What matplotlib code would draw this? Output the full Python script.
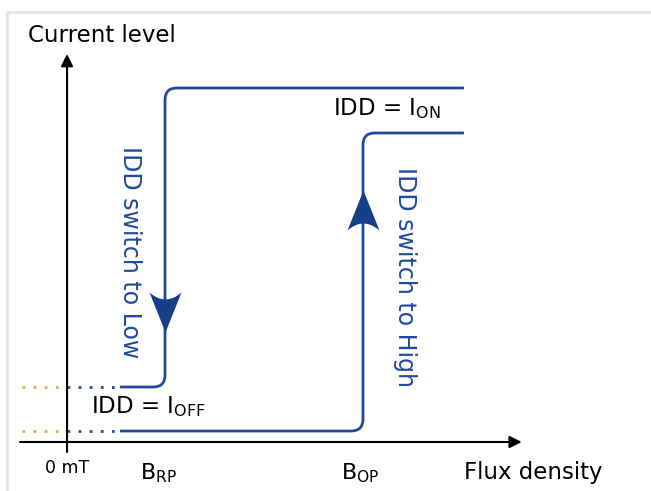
import numpy as np
import matplotlib.pyplot as plt
from matplotlib.path import Path
from matplotlib.patches import PathPatch

# schematic values (field in arbitrary units, current in arbitrary units)
b_ticks = [0.0, 1.0, 3.02]
b_labels = ['0 mT', r'B$_{\mathregular{RP}}$', r'B$_{\mathregular{OP}}$']
b_start = 0.54       # where the solid curves start
b_end = 4.05         # where the solid curves end
i_off = 1.1          # IDD = I_OFF
i_low = 5.5          # low level on release path
i_on_op = 30.9       # high level after B_OP
i_on = 35.4          # IDD = I_ON

blue = '#1f4a9c'
arrow_blue = '#163f8a'
orange = '#f2a43a'

fig = plt.figure(figsize=(6.51, 4.91), dpi=100)
ax = fig.add_axes([0, 0, 1, 1])
ax.set_xlim(-0.684, 5.959)
ax.set_ylim(-4.9, 44.2)
ax.axis('off')

# light frame
ax.plot([-0.61, -0.61, 6.0], [-5, 43.0, 43.0], color='#e3e3e3', lw=2, clip_on=False)

# axes arrows
ax.annotate('', xy=(4.64, 0), xytext=(-0.48, 0),
            arrowprops=dict(arrowstyle='-|>', color='black', lw=1.5,
                            mutation_scale=18, shrinkA=0, shrinkB=0))
ax.annotate('', xy=(0, 38.8), xytext=(0, -1.0),
            arrowprops=dict(arrowstyle='-|>', color='black', lw=1.5,
                            mutation_scale=18, shrinkA=0, shrinkB=0))


def rounded(xs, ys, rx=0.12, ry=1.2):
    verts = [(xs[0], ys[0])]
    codes = [Path.MOVETO]
    for k in range(1, len(xs) - 1):
        x0, y0 = xs[k - 1], ys[k - 1]
        x1, y1 = xs[k], ys[k]
        x2, y2 = xs[k + 1], ys[k + 1]
        a = (x1 - np.sign(x1 - x0) * rx, y1 - np.sign(y1 - y0) * ry)
        b = (x1 + np.sign(x2 - x1) * rx, y1 + np.sign(y2 - y1) * ry)
        verts += [a, (x1, y1), b]
        codes += [Path.LINETO, Path.CURVE3, Path.CURVE3]
    verts.append((xs[-1], ys[-1]))
    codes.append(Path.LINETO)
    return Path(verts, codes)


# operate path (rising)
ax.add_patch(PathPatch(rounded([b_start, b_ticks[2], b_ticks[2], b_end],
                               [i_off, i_off, i_on_op, i_on_op]),
                       fill=False, ec=blue, lw=2))
# release path (falling)
ax.add_patch(PathPatch(rounded([b_end, b_ticks[1], b_ticks[1], b_start],
                               [i_on, i_on, i_low, i_low]),
                       fill=False, ec=blue, lw=2))

# dotted extensions
for lev in [i_off, i_low]:
    ax.plot([-0.46, 0], [lev, lev], ls=(0, (1, 3)), color=orange, lw=2)
    ax.plot([0, 0.5], [lev, lev], ls=(0, (1, 3)), color=blue, lw=2)

# arrowheads
head = Path([(0, -20), (-16, 20), (0, 6), (16, 20), (0, -20)],
            [Path.MOVETO, Path.LINETO, Path.CURVE3, Path.CURVE3, Path.CLOSEPOLY])
head_up = Path(head.vertices * [1, -1], head.codes)
ax.plot([b_ticks[1]], [13.0], marker=head, ms=28.8, color=arrow_blue, mec='none')
ax.plot([b_ticks[2]], [23.2], marker=head_up, ms=28.8, color=arrow_blue, mec='none')

# texts
ax.text(-0.40, 40.6, 'Current level', fontsize=16.5, va='center', ha='left')
ax.text(3.26, 33.3, r'IDD = I$_{\mathregular{ON}}$', fontsize=16.5, va='center', ha='center')
ax.text(0.83, 3.5, r'IDD = I$_{\mathregular{OFF}}$', fontsize=16.5, va='center', ha='center')
ax.text(0.64, 19.0, 'IDD switch to Low', fontsize=17, color=blue,
        rotation=-90, va='center', ha='center')
ax.text(3.45, 16.5, 'IDD switch to High', fontsize=17, color=blue,
        rotation=-90, va='center', ha='center')
ax.text(b_ticks[0], -2.6, b_labels[0], fontsize=12.5, va='center', ha='center')
ax.text(0.93, -3.1, b_labels[1], fontsize=16, va='center', ha='center')
ax.text(2.99, -3.1, b_labels[2], fontsize=16, va='center', ha='center')
ax.text(4.76, -3.1, 'Flux density', fontsize=16.5, va='center', ha='center')

fig.savefig('out.png', dpi=100)
